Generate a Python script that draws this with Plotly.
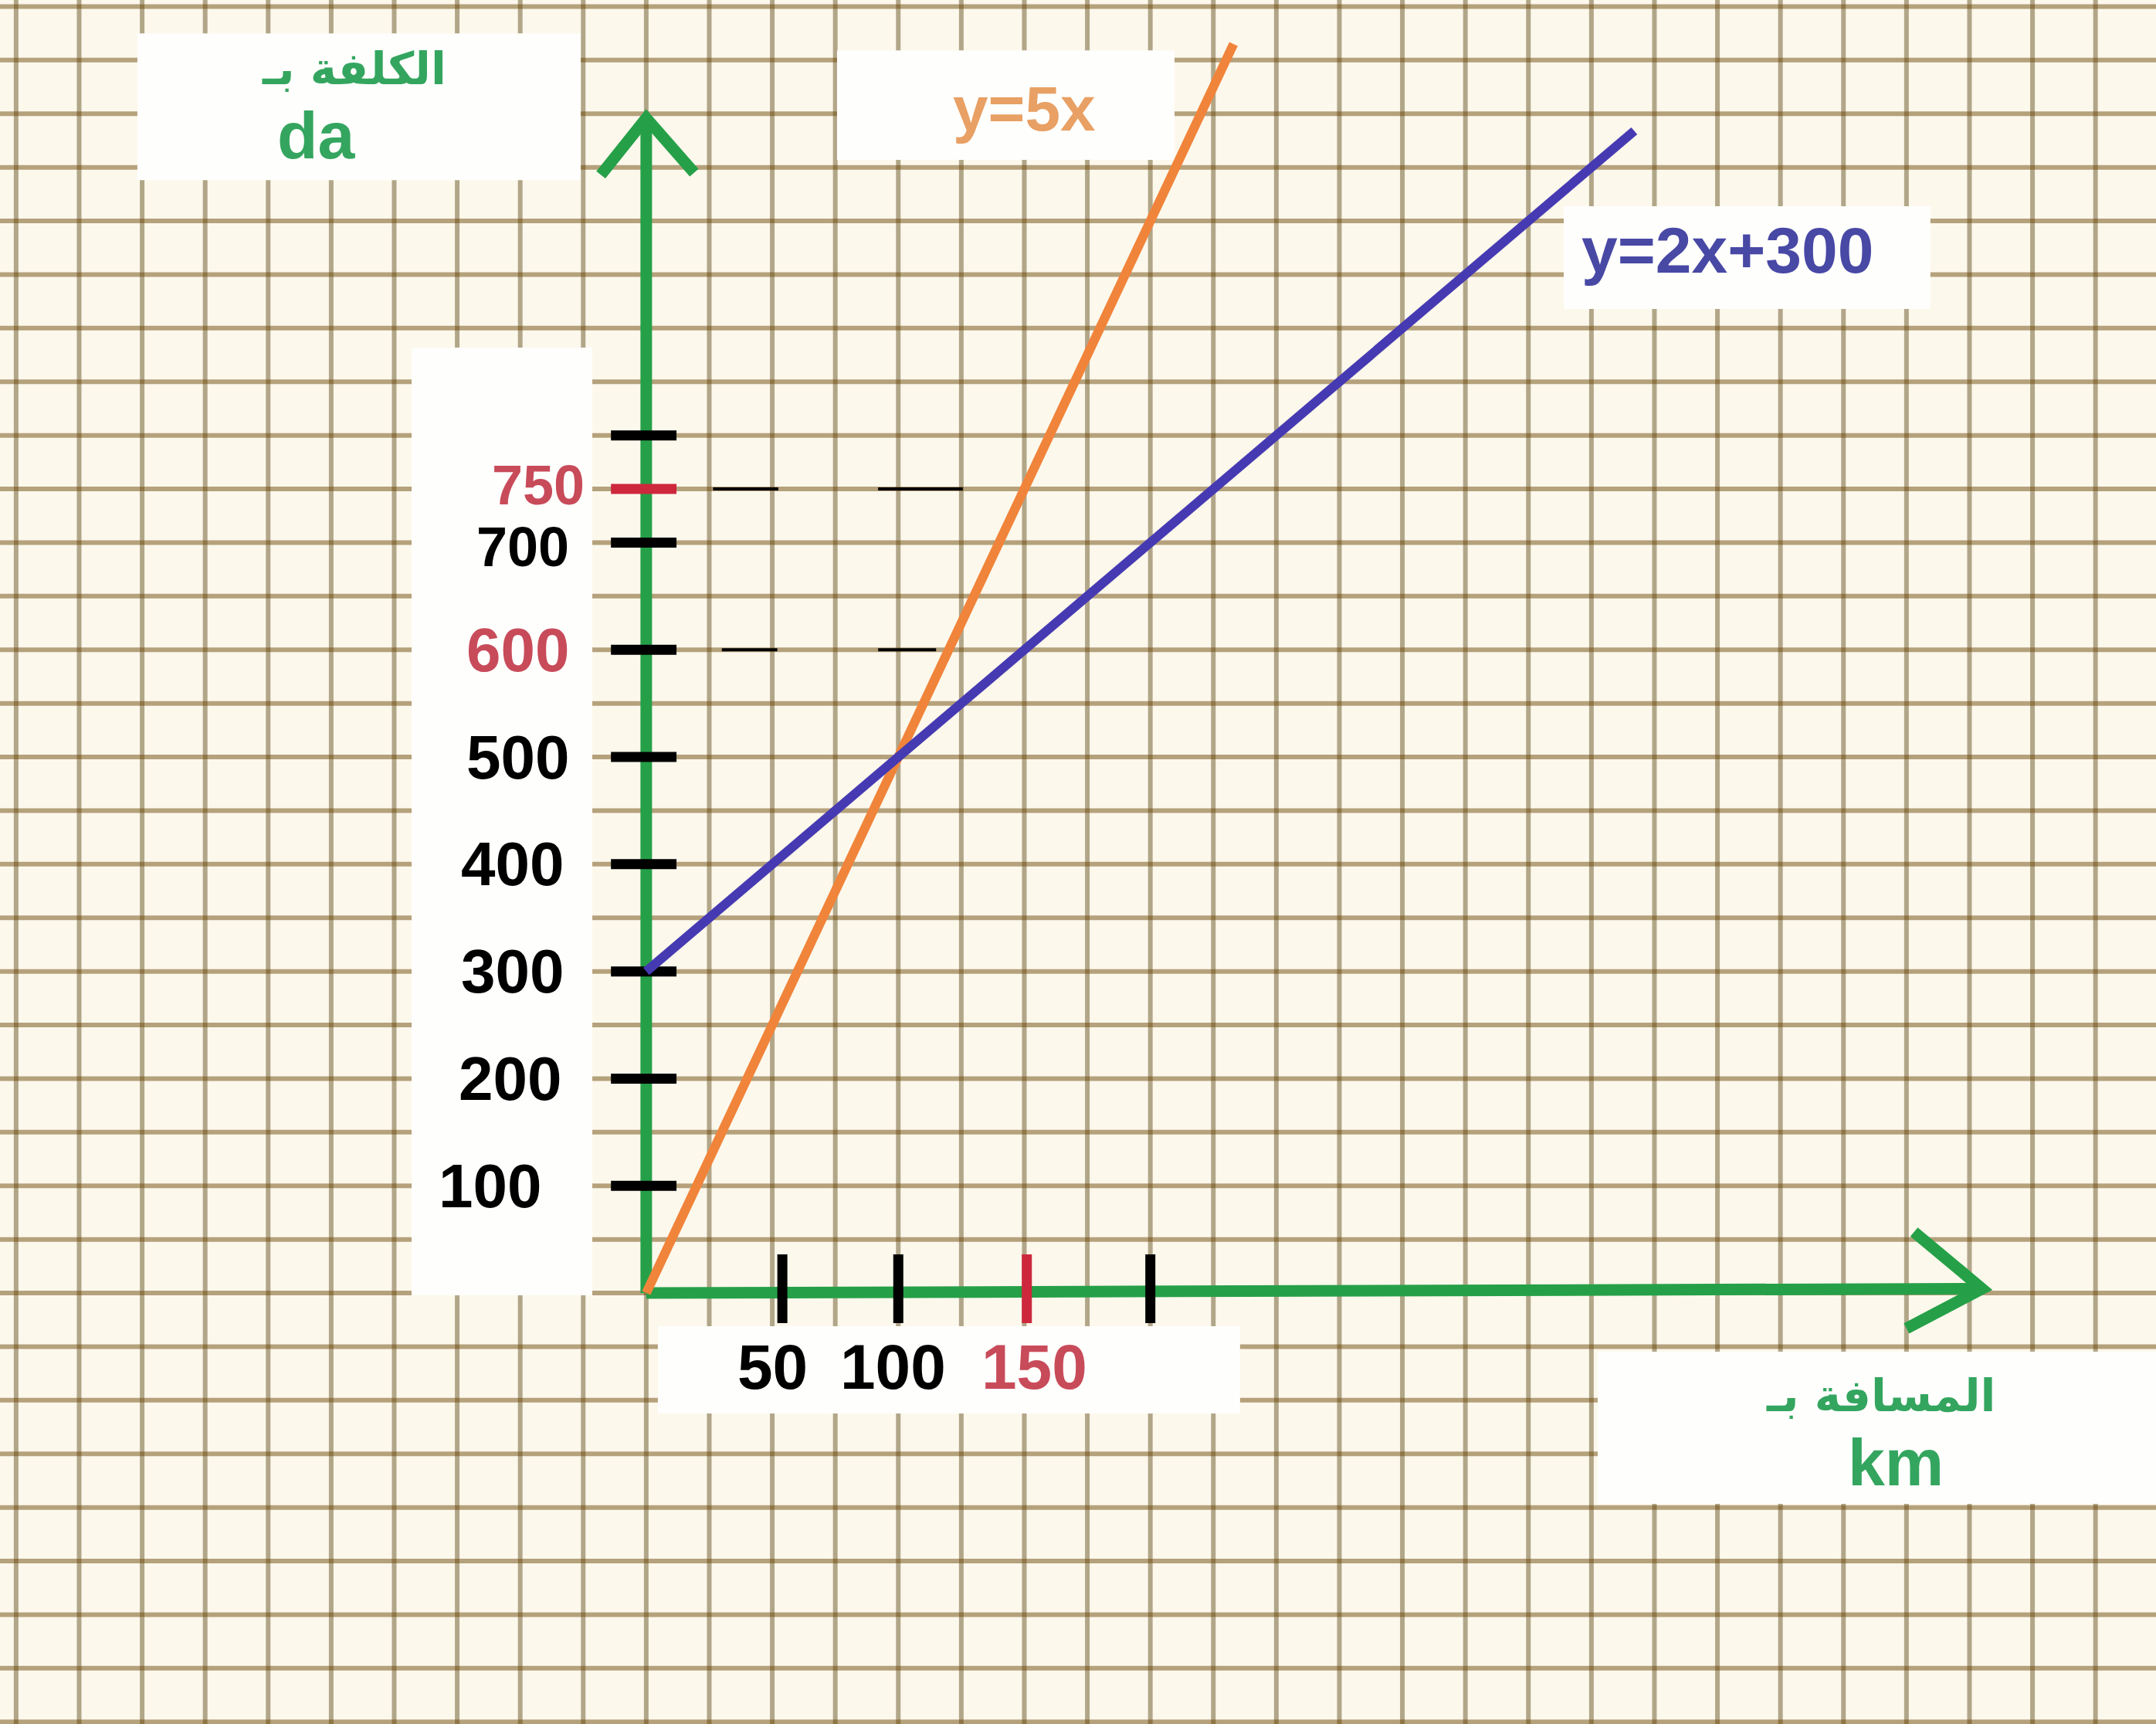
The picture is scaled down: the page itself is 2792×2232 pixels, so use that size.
import plotly.graph_objects as go

# ---------------- data ----------------
orange_x = [0, 100, 150, 233]          # y = 5x
orange_y = [0, 500, 750, 1165]
blue_x = [0, 100, 150, 392]            # y = 2x + 300
blue_y = [300, 500, 600, 1084]

y_tick_values = [100, 200, 300, 400, 500, 600, 700, 750, 800]
y_tick_labels = ["100", "200", "300", "400", "500", "600", "700", "750", ""]
y_tick_red = [False, False, False, False, False, False, False, True, False]
y_label_red = [False, False, False, False, False, True, False, True, False]

x_tick_values = [54, 100, 151, 200]
x_tick_labels = ["50", "100", "150", ""]
x_tick_red = [False, False, True, False]

guide_levels = [750, 600]
guide_starts = [[26.5, 92], [30, 92]]
guide_ends = [[52.4, 125.6], [52, 115]]

line_labels = ["y=5x", "y=2x+300"]
y_title = ["الكلفة بـ", "da"]
x_title = ["المسافة بـ", "km"]

axis_y_top = 1096
axis_x_end = 530
axis_x_end_y = 4

# ---------------- layout constants ----------------
W, H = 2792, 2232
X_RANGE = [-256.4, 599.0]
Y_RANGE = [-402.0, 1206.1]
GREEN = "rgb(38,160,72)"
RED_TICK = "rgb(205,40,60)"
RED_TXT = "rgb(200,75,90)"
ORANGE = "rgb(240,132,58)"
BLUE = "rgb(70,58,178)"
TXT_GREEN = "rgb(52,165,95)"
NUM_FONT = "Liberation Sans, Arial, sans-serif"
AR_FONT = "DejaVu Sans, Noto Sans, sans-serif"

fig = go.Figure()

shapes = []
# graph paper
for k in range(-11, 25):
    v = 25 * k
    shapes.append(dict(type="line", xref="x", yref="y", x0=v, x1=v,
                       y0=Y_RANGE[0] - 20, y1=Y_RANGE[1] + 20, layer="below",
                       line=dict(color="rgba(92,70,20,0.46)", width=6)))
for k in range(-9, 26):
    v = 50 * k
    shapes.append(dict(type="line", xref="x", yref="y", y0=v, y1=v,
                       x0=X_RANGE[0] - 20, x1=X_RANGE[1] + 20, layer="below",
                       line=dict(color="rgba(105,66,0,0.48)", width=6)))
# white label patches
boxes = [
    (-93.1, -21.4, -2.2, 881.8),
    (4.6, 235.6, -112.4, -31.0),
    (-201.9, -26.0, 1038.0, 1175.0),
    (75.7, 209.6, 1057.0, 1159.0),
    (364.0, 509.5, 917.9, 1013.7),
    (377.5, 620.0, -196.7, -54.8),
]
for x0, x1, y0, y1 in boxes:
    shapes.append(dict(type="rect", xref="x", yref="y", x0=x0, x1=x1, y0=y0, y1=y1,
                       layer="below", line=dict(width=0), fillcolor="#fefefc"))

# guide dashes
gx, gy = [], []
for lvl, s, e in zip(guide_levels, guide_starts, guide_ends):
    for a, b in zip(s, e):
        gx += [a, b, None]
        gy += [lvl, lvl, None]
fig.add_trace(go.Scatter(x=gx, y=gy, mode="lines", line=dict(color="black", width=4),
                         hoverinfo="skip"))

# green axes with arrow heads
fig.add_trace(go.Scatter(x=[0, 0, None, -18, 0, 19], y=[0, axis_y_top, None, 1043, axis_y_top, 1045],
                         mode="lines", line=dict(color=GREEN, width=15), hoverinfo="skip"))
fig.add_trace(go.Scatter(x=[0, axis_x_end, None, 503, axis_x_end, 500],
                         y=[0, axis_x_end_y, None, 57, axis_x_end_y, -33],
                         mode="lines", line=dict(color=GREEN, width=15), hoverinfo="skip"))

# tick marks
for red in (False, True):
    tx, ty = [], []
    for v, r in zip(y_tick_values, y_tick_red):
        if r == red:
            tx += [-14, 12, None]
            ty += [v, v, None]
    for v, r in zip(x_tick_values, x_tick_red):
        if r == red:
            tx += [v, v, None]
            ty += [-28, 36, None]
    fig.add_trace(go.Scatter(x=tx, y=ty, mode="lines",
                             line=dict(color=RED_TICK if red else "black", width=13),
                             hoverinfo="skip"))

# the two lines
fig.add_trace(go.Scatter(x=orange_x, y=orange_y, mode="lines",
                         line=dict(color=ORANGE, width=12), hoverinfo="skip"))
fig.add_trace(go.Scatter(x=blue_x, y=blue_y, mode="lines",
                         line=dict(color=BLUE, width=12), hoverinfo="skip"))

ann = []
y_label_right = [-41, -33, -32, -32, -30, -30, -30, -24, 0]
y_label_dy = [0, 0, 0, 0, 0, 0, -4, 4, 0]
y_label_size = [80, 80, 80, 80, 80, 80, 72, 72, 80]
for v, lab, r, xr, dy, sz in zip(y_tick_values, y_tick_labels, y_label_red,
                                 y_label_right, y_label_dy, y_label_size):
    if lab:
        ann.append(dict(x=xr, y=v + dy, xref="x", yref="y", text="<b>%s</b>" % lab,
                        showarrow=False, xanchor="right", yanchor="middle",
                        font=dict(family=NUM_FONT, size=sz, color=RED_TXT if r else "black")))
x_label_center = [50, 98, 154, 200]
for lab, r, xc in zip(x_tick_labels, x_tick_red, x_label_center):
    if lab:
        ann.append(dict(x=xc, y=-69, xref="x", yref="y", text="<b>%s</b>" % lab,
                        showarrow=False, xanchor="center", yanchor="middle",
                        font=dict(family=NUM_FONT, size=82, color=RED_TXT if r else "black")))

ann.append(dict(x=150, y=1105, xref="x", yref="y", text="<b>%s</b>" % line_labels[0],
                showarrow=False, font=dict(family=NUM_FONT, size=82, color="rgb(232,160,100)")))
ann.append(dict(x=429, y=973, xref="x", yref="y", text="<b>%s</b>" % line_labels[1],
                showarrow=False, font=dict(family=NUM_FONT, size=84, color="rgb(72,72,165)")))

ann.append(dict(x=-115.8, y=1142, xref="x", yref="y", text="<b>%s</b>" % y_title[0],
                showarrow=False, font=dict(family=AR_FONT, size=58, color=TXT_GREEN)))
ann.append(dict(x=-130.8, y=1080, xref="x", yref="y", text="<b>%s</b>" % y_title[1],
                showarrow=False, font=dict(family=NUM_FONT, size=86, color=TXT_GREEN)))
ann.append(dict(x=489.9, y=-96, xref="x", yref="y", text="<b>%s</b>" % x_title[0],
                showarrow=False, font=dict(family=AR_FONT, size=58, color=TXT_GREEN)))
ann.append(dict(x=495.7, y=-158, xref="x", yref="y", text="<b>%s</b>" % x_title[1],
                showarrow=False, font=dict(family=NUM_FONT, size=86, color=TXT_GREEN)))

fig.update_layout(
    width=W, height=H, margin=dict(l=0, r=0, t=0, b=0, pad=0),
    paper_bgcolor="#fcf8ec", plot_bgcolor="#fcf8ec",
    showlegend=False, shapes=shapes, annotations=ann,
    xaxis=dict(range=X_RANGE, visible=False, showgrid=False, zeroline=False, fixedrange=True),
    yaxis=dict(range=Y_RANGE, visible=False, showgrid=False, zeroline=False, fixedrange=True),
)

fig.write_html("out.html", config={"displayModeBar": False},
               post_script="document.body.style.margin='0';document.body.style.overflow='hidden';")
